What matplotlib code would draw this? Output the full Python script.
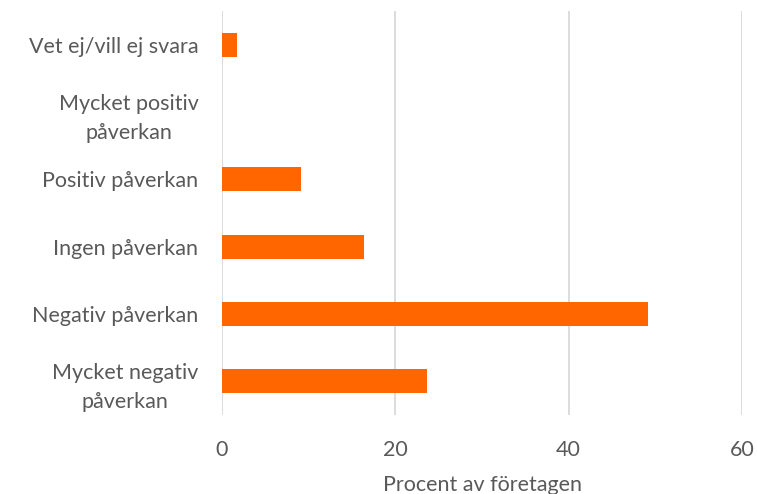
import matplotlib
matplotlib.use("Agg")
import matplotlib.pyplot as plt

categories = ["Vet ej/vill ej svara", "Mycket positiv\npåverkan", "Positiv påverkan",
              "Ingen påverkan", "Negativ påverkan", "Mycket negativ\npåverkan"]
values = [1.7, 0.0, 9.1, 16.4, 49.2, 23.7]
xticks = [0, 20, 40, 60]
xlabel = "Procent av företagen"

plt.rcParams['font.family'] = ['Lato', 'DejaVu Sans']
text_color = "#595959"
fs = 15.5

fig = plt.figure(figsize=(7.57, 4.94), dpi=100)
ax = fig.add_axes([222/757, 1-415/494, (742-222)/757, (415-11)/494])

ypos = list(range(len(categories)))
ax.barh(ypos, values, height=0.36, color="#FF6600", zorder=3)
ax.set_ylim(len(categories)-0.5, -0.5)
ax.set_xlim(0, 60)
ax.set_xticks(xticks)
ax.set_yticks(ypos)
ax.set_yticklabels(categories, multialignment='center', linespacing=1.55)
ax.grid(axis='x', color="#d9d9d9", linewidth=1.3, zorder=0)
for s in ax.spines.values():
    s.set_visible(False)
ax.tick_params(axis='both', length=0, labelsize=fs, colors=text_color)
ax.tick_params(axis='x', pad=18)
ax.tick_params(axis='y', pad=17)
ax.set_xlabel(xlabel, fontsize=fs, color=text_color, labelpad=11)

fig.savefig("out.png", dpi=100)
